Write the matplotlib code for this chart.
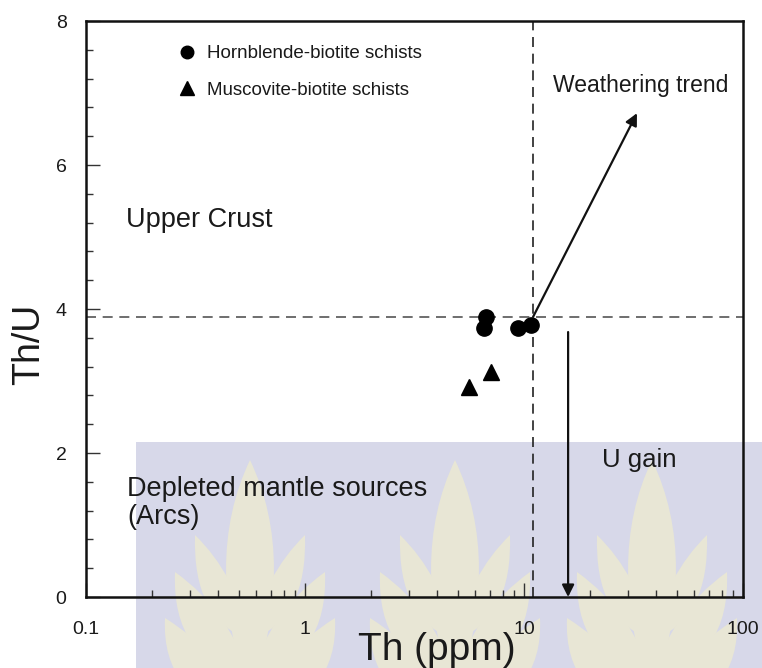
import matplotlib
matplotlib.use("Agg")
import matplotlib.pyplot as plt
from matplotlib.path import Path
from matplotlib.patches import PathPatch, Rectangle
from matplotlib.transforms import Affine2D
from matplotlib.ticker import LogLocator, MultipleLocator, FixedLocator, FixedFormatter, NullFormatter

plt.rcParams['font.family'] = ['Liberation Sans', 'DejaVu Sans']

# Sample data: Th (ppm) and Th/U
hbl_th = [6.7, 6.6, 9.4, 10.8]
hbl_thu = [3.89, 3.73, 3.73, 3.78]
mus_th = [5.6, 7.1]
mus_thu = [2.91, 3.12]

# Reference lines
th_ref = 11.0
thu_ref = 3.89

# Trend arrows
weather_start = (11.0, 3.89)
weather_end = (32.8, 6.72)
ugain_th = 15.9
ugain_start = 3.68
ugain_end = 0.0

x_ticks = [0.1, 1, 10, 100]
x_tick_labels = ['0.1', '1', '10', '100']
y_ticks = [0, 2, 4, 6, 8]

W, H = 762, 668
fig = plt.figure(figsize=(W / 100, H / 100), dpi=100)
fig.patch.set_facecolor('white')
ax = fig.add_axes([86 / W, 1 - 597 / H, (743 - 86) / W, (597 - 21) / H])
ax.set_facecolor('none')

# background band with leaf emblem (pixel coordinates, origin top-left)
px = Affine2D().scale(1 / W, -1 / H).translate(0, 1) + fig.transFigure
band = Rectangle((136, 442), W - 136, H - 442, transform=px,
                 facecolor='#d7d8e9', edgecolor='none', zorder=-5)
fig.patches.append(band)


def leaf(cx, tip, base_y, ctrl_out, ctrl_in):
    verts = [(cx, base_y), ctrl_out, tip, ctrl_in, (cx, base_y)]
    codes = [Path.MOVETO, Path.CURVE3, Path.CURVE3, Path.CURVE3, Path.CURVE3]
    return Path(verts, codes)


leaf_color = '#e8e6d5'
for cx in [250, 455, 652]:
    ty = 460
    paths = []
    # central spire
    paths.append(Path([(cx, 700), (cx - 48, 560), (cx, ty), (cx + 48, 560), (cx, 700)],
                      [Path.MOVETO, Path.CURVE3, Path.CURVE3, Path.CURVE3, Path.CURVE3]))
    # side leaves, widening downward
    for dx, tyl, by in [(55, 535, 640), (75, 572, 680), (85, 618, 720)]:
        for s in (-1, 1):
            tip = (cx + s * dx, tyl)
            paths.append(leaf(cx, tip, by, (cx + s * dx * 1.05, by - 20),
                              (cx + s * dx * 0.25, tyl + 40)))
    for p in paths:
        fig.patches.append(PathPatch(p, transform=px, facecolor=leaf_color,
                                     edgecolor='none', zorder=-4))

ax.set_xscale('log')
ax.set_xlim(0.1, 100)
ax.set_ylim(0, 8)

# reference lines
ax.axvline(th_ref, color='#222222', lw=1.2, ls=(0, (6, 4)), zorder=1)
ax.axhline(thu_ref, color='#555555', lw=1.2, ls=(0, (6, 4)), zorder=1)

ax.plot(hbl_th, hbl_thu, 'o', color='black', ms=11, ls='none',
        label='Hornblende-biotite schists', zorder=3)
ax.plot(mus_th, mus_thu, '^', color='black', ms=12, ls='none',
        label='Muscovite-biotite schists', zorder=3)

ax.annotate('', xy=weather_end, xytext=weather_start,
            arrowprops=dict(arrowstyle='-|>', color='#111111', lw=1.6,
                            mutation_scale=18, shrinkA=0, shrinkB=0))
ax.annotate('', xy=(ugain_th, ugain_end), xytext=(ugain_th, ugain_start),
            arrowprops=dict(arrowstyle='-|>', color='#111111', lw=1.6,
                            mutation_scale=18, shrinkA=0, shrinkB=0))

ax.text(0.152, 5.24, 'Upper Crust', fontsize=19.5, va='center', ha='left', color='#1a1a1a')
ax.text(13.6, 7.11, 'Weathering trend', fontsize=16.5, va='center', ha='left', color='#1a1a1a')
ax.text(0.154, 1.30, 'Depleted mantle sources\n(Arcs)', fontsize=19.5, va='center',
        ha='left', color='#1a1a1a', linespacing=1.1)
ax.text(22.7, 1.90, 'U gain', fontsize=18.5, va='center', ha='left', color='#1a1a1a')

leg = ax.legend(loc='upper left', bbox_to_anchor=((178 - 86) / 657, 1 - (45 - 21) / 576),
                frameon=False, fontsize=13.5, handlelength=1.0, handletextpad=0.55,
                labelspacing=1.05, markerscale=0.82, borderpad=0, borderaxespad=0)
for t in leg.get_texts():
    t.set_color('#1a1a1a')

# ticks
ax.xaxis.set_major_locator(FixedLocator(x_ticks))
ax.xaxis.set_major_formatter(FixedFormatter(x_tick_labels))
ax.xaxis.set_minor_locator(LogLocator(base=10, subs=range(2, 10)))
ax.xaxis.set_minor_formatter(NullFormatter())
ax.yaxis.set_major_locator(FixedLocator(y_ticks))
ax.yaxis.set_minor_locator(MultipleLocator(0.4))
ax.tick_params(which='both', direction='in', top=False, right=False,
               color='#333333', width=1.0, labelsize=14, labelcolor='#1a1a1a')
ax.tick_params(which='major', length=10)
ax.tick_params(which='minor', length=5)
ax.tick_params(axis='x', pad=17)
ax.tick_params(axis='y', pad=14)

for sp in ax.spines.values():
    sp.set_linewidth(1.8)
    sp.set_color('#111111')

fig.text(437 / W, 1 - 660 / H, 'Th (ppm)', fontsize=28, ha='center', va='baseline', color='#1a1a1a')
fig.text(29 / W, 1 - 344 / H, 'Th/U', fontsize=27, ha='center', va='center',
         rotation=90, color='#1a1a1a')

fig.savefig('out.png', dpi=100)
